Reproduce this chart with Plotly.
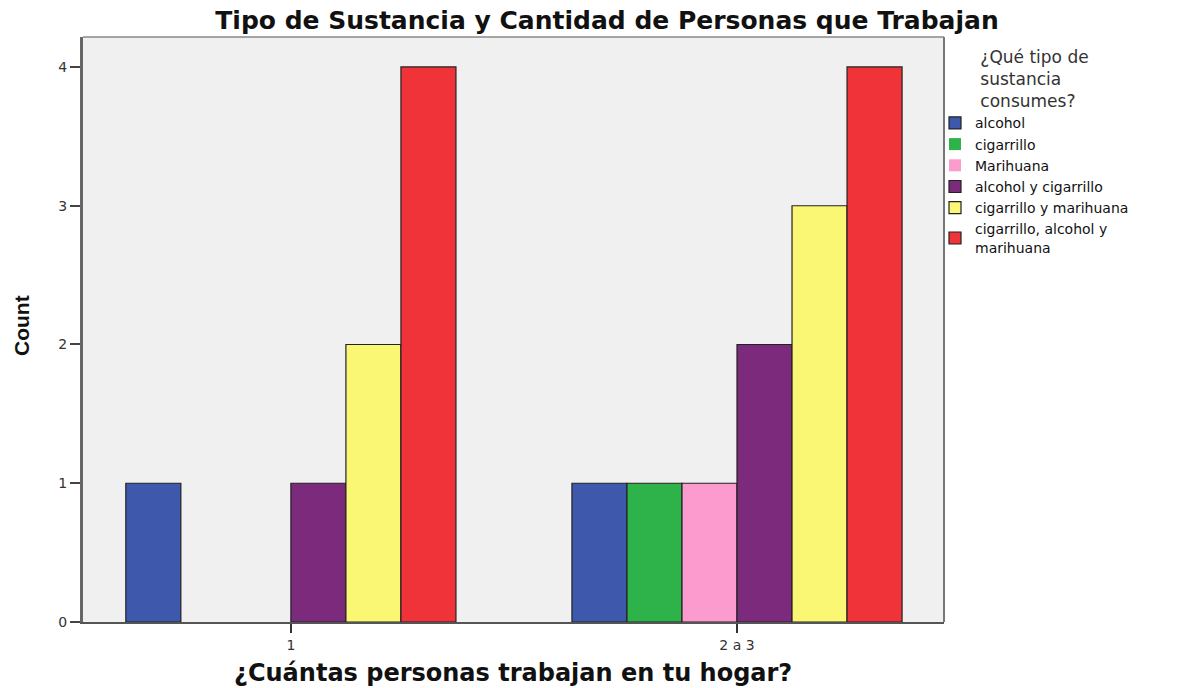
import plotly.graph_objects as go

categories = ["1", "2 a 3"]
series_names = ["alcohol", "cigarrillo", "Marihuana", "alcohol y cigarrillo",
                "cigarrillo y marihuana", "cigarrillo, alcohol y<br>marihuana"]
series_values = [
    [1, 1],
    [0, 1],
    [0, 1],
    [1, 2],
    [2, 3],
    [4, 4],
]
colors = ["#3E58AC", "#2DB34A", "#FB9BCE", "#7B2A7C", "#FAF774", "#EF3339"]
y_ticks = [0, 1, 2, 3, 4]

W, H = 1192, 688
L, T, PW, PH = 83, 37, 861, 585

fig = go.Figure()
for name, vals, col in zip(series_names, series_values, colors):
    fig.add_trace(go.Bar(
        x=categories, y=vals, name=name,
        marker=dict(color=col,
                    line=dict(color="#222222", width=[1.2 if v else 0 for v in vals])),
    ))

fig.update_layout(
    width=W, height=H,
    margin=dict(l=L, r=W - L - PW, t=T, b=H - T - PH),
    paper_bgcolor="white",
    plot_bgcolor="#F0F0F0",
    barmode="group",
    bargap=0.26,
    bargroupgap=0,
    showlegend=True,
    title=dict(
        text="<b>Tipo de Sustancia y Cantidad de Personas que Trabajan</b>",
        x=607 / W, xanchor="center", xref="container",
        y=1 - 20 / H, yanchor="middle", yref="container",
        font=dict(family="DejaVu Sans, Verdana, sans-serif", size=25, color="#111111"),
    ),
    legend=dict(
        xref="paper", yref="paper",
        x=(935 - L) / PW, xanchor="left",
        y=1 - (41 - T) / PH, yanchor="top",
        title=dict(text="¿Qué tipo de<br>sustancia<br>consumes?", side="top center",
                   font=dict(family="DejaVu Sans, Verdana, sans-serif", size=17, color="#333333")),
        font=dict(family="DejaVu Sans, Verdana, sans-serif", size=14, color="#111111"),
        bgcolor="rgba(0,0,0,0)",
        tracegroupgap=0,
        itemwidth=30,
    ),
    font=dict(family="Liberation Sans, Arial, sans-serif", color="#222222"),
)

fig.update_xaxes(
    type="category",
    range=[-0.466, 1.464],
    showline=True, linecolor="#555555", linewidth=2,
    ticks="outside", ticklen=9, tickcolor="#333333", tickwidth=1.5,
    tickfont=dict(family="DejaVu Sans, Verdana, sans-serif", size=14, color="#333333"),
    showgrid=False, zeroline=False,
)
fig.update_yaxes(
    range=[0, 4.216],
    tickvals=y_ticks,
    showline=True, linecolor="#666666", linewidth=3,
    ticks="outside", ticklen=10, tickcolor="#444444", tickwidth=1.5,
    tickfont=dict(family="DejaVu Sans, Verdana, sans-serif", size=14, color="#333333"),
    showgrid=False, zeroline=False,
)

# thin top and right frame of the plot area
fig.add_shape(type="line", xref="paper", yref="paper", x0=0, x1=1, y0=1, y1=1,
              line=dict(color="#888888", width=1.5))
fig.add_shape(type="line", xref="paper", yref="paper", x0=1, x1=1, y0=0, y1=1,
              line=dict(color="#777777", width=2))

fig.add_annotation(
    text="<b>Count</b>", xref="paper", yref="paper",
    x=(22 - L) / PW, y=0.506, xanchor="center", yanchor="middle", textangle=-90,
    showarrow=False,
    font=dict(family="Liberation Sans Narrow, Arial Narrow, sans-serif", size=21, color="#111111"),
)
fig.add_annotation(
    text="<b>¿Cuántas personas trabajan en tu hogar?</b>", xref="paper", yref="paper",
    x=0.499, y=-51 / PH, xanchor="center", yanchor="middle",
    showarrow=False,
    font=dict(family="DejaVu Sans, Verdana, sans-serif", size=24, color="#111111"),
)

fig.write_html("out.html",
               config={"displayModeBar": False},
               post_script="document.body.style.margin='0';document.body.style.overflow='hidden';")
